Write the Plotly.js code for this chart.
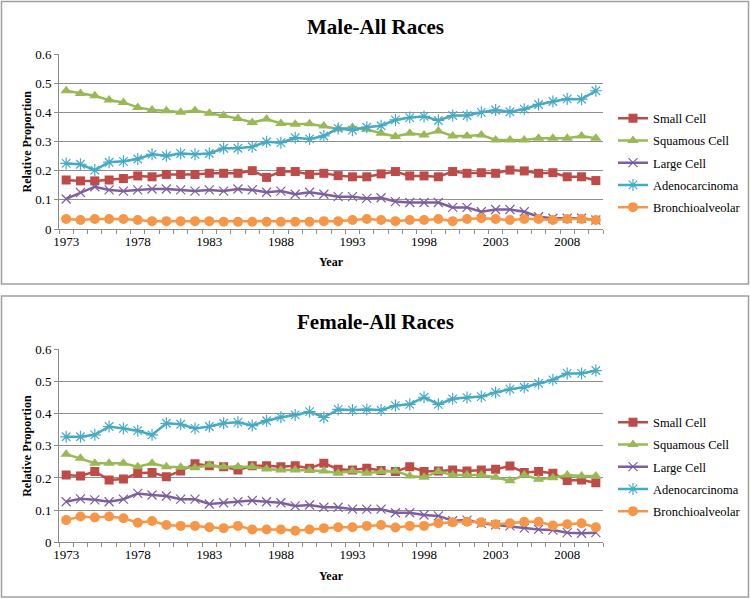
<!DOCTYPE html>
<html>
<head>
<meta charset="utf-8">
<script src="https://cdn.plot.ly/plotly-3.0.1.min.js"></script>
<style>html,body{margin:0;padding:0;background:#fff;}#chart{width:750px;height:599px;}</style>
</head>
<body>
<div id="chart"></div>
<script>
var years = [];
for (var y = 1973; y <= 2010; y++) years.push(y);

var seriesNames = ["Small Cell", "Squamous Cell", "Large Cell", "Adenocarcinoma", "Bronchioalveolar"];
var tickYears = [1973, 1978, 1983, 1988, 1993, 1998, 2003, 2008];
var panelTitles = ["Male-All Races", "Female-All Races"];
var xTitle = "Year";
var yTitle = "Relative Proportion";

var maleSmall = [0.168,0.165,0.165,0.168,0.173,0.182,0.179,0.187,0.187,0.187,0.191,0.191,0.191,0.200,0.177,0.197,0.197,0.187,0.191,0.183,0.179,0.179,
  0.189,0.197,0.182,0.182,0.179,0.197,0.191,0.193,0.191,0.202,0.199,0.191,0.193,0.179,0.179,0.166];
var maleSquamous = [0.474,0.465,0.457,0.442,0.434,0.417,0.408,0.405,0.400,0.406,0.397,0.389,0.379,0.365,0.377,0.362,0.359,0.361,0.353,0.343,0.348,0.342,
  0.328,0.317,0.328,0.322,0.336,0.319,0.319,0.322,0.305,0.305,0.305,0.311,0.311,0.311,0.319,0.311];
var maleLarge = [0.103,0.125,0.145,0.134,0.130,0.134,0.137,0.137,0.134,0.130,0.134,0.130,0.137,0.134,0.126,0.130,0.119,0.126,0.119,0.111,0.111,0.105,
  0.107,0.094,0.091,0.091,0.091,0.074,0.074,0.059,0.067,0.067,0.059,0.042,0.037,0.037,0.037,0.031];
var maleAdeno = [0.225,0.222,0.202,0.229,0.232,0.240,0.256,0.251,0.259,0.256,0.259,0.277,0.277,0.282,0.299,0.296,0.313,0.309,0.319,0.345,0.339,0.349,
  0.354,0.374,0.382,0.386,0.372,0.389,0.389,0.400,0.408,0.402,0.411,0.427,0.437,0.446,0.445,0.474];
var maleBronch = [0.034,0.031,0.034,0.034,0.034,0.031,0.027,0.027,0.027,0.027,0.027,0.025,0.025,0.025,0.025,0.025,0.025,0.025,0.027,0.027,0.031,0.034,
  0.031,0.027,0.031,0.031,0.034,0.027,0.034,0.037,0.034,0.031,0.034,0.034,0.031,0.034,0.034,0.031];

var femaleSmall = [0.209,0.206,0.220,0.194,0.197,0.215,0.217,0.204,0.222,0.244,0.238,0.235,0.225,0.238,0.238,0.235,0.238,0.230,0.246,0.227,0.225,0.230,
  0.223,0.220,0.235,0.220,0.222,0.225,0.222,0.225,0.227,0.237,0.217,0.220,0.215,0.192,0.194,0.185];
var femaleSquamous = [0.274,0.261,0.246,0.246,0.246,0.235,0.246,0.235,0.233,0.232,0.240,0.235,0.235,0.235,0.228,0.225,0.225,0.223,0.222,0.215,0.222,0.215,
  0.220,0.222,0.206,0.202,0.220,0.209,0.209,0.209,0.202,0.191,0.209,0.196,0.201,0.209,0.206,0.206];
var femaleLarge = [0.126,0.135,0.132,0.126,0.134,0.152,0.147,0.144,0.134,0.134,0.119,0.123,0.126,0.130,0.126,0.123,0.113,0.116,0.109,0.109,0.103,0.103,
  0.103,0.092,0.092,0.085,0.082,0.067,0.069,0.059,0.054,0.051,0.044,0.040,0.038,0.030,0.028,0.030];
var femaleAdeno = [0.328,0.328,0.334,0.360,0.354,0.347,0.334,0.370,0.367,0.354,0.360,0.370,0.373,0.363,0.378,0.389,0.396,0.406,0.388,0.413,0.411,0.413,
  0.411,0.425,0.429,0.451,0.429,0.446,0.450,0.453,0.466,0.476,0.482,0.494,0.505,0.525,0.525,0.534];
var femaleBronch = [0.069,0.080,0.077,0.080,0.075,0.061,0.066,0.054,0.051,0.051,0.047,0.044,0.051,0.040,0.040,0.040,0.036,0.040,0.044,0.047,0.047,0.051,
  0.054,0.046,0.051,0.051,0.059,0.062,0.064,0.062,0.056,0.059,0.064,0.064,0.052,0.056,0.059,0.047];

var styles = [
  {color: "#BE4B48", symbol: "square", size: 9, mline: "#BE4B48", mwidth: 0},
  {color: "#98B954", symbol: "triangle-up", size: 10, mline: "#98B954", mwidth: 0},
  {color: "#7D5FA0", symbol: "x-thin-open", size: 9, mline: "#A08AC4", mwidth: 1.2},
  {color: "#46AAC5", symbol: "asterisk-open", size: 10, mline: "#86D4EA", mwidth: 1.2},
  {color: "#F79646", symbol: "circle", size: 10, mline: "#F79646", mwidth: 0}
];

var maleData = [maleSmall, maleSquamous, maleLarge, maleAdeno, maleBronch];
var femaleData = [femaleSmall, femaleSquamous, femaleLarge, femaleAdeno, femaleBronch];

var traces = [];
function addPanel(data, xa, ya, leg, tag) {
  for (var i = 0; i < data.length; i++) {
    var s = styles[i];
    traces.push({
      x: years, y: data[i], type: "scatter", mode: "lines+markers",
      name: seriesNames[i], xaxis: xa, yaxis: ya, legend: leg, legendgroup: tag + i,
      line: {color: s.color, width: 2.5},
      marker: {symbol: s.symbol, size: s.size, color: s.color, line: {color: s.mline, width: s.mwidth}}
    });
  }
}
addPanel(maleData, "x", "y", "legend", "m");
addPanel(femaleData, "x2", "y2", "legend2", "f");

var W = 750, H = 599;
function py(p) { return 1 - p / H; }
var font = "Liberation Serif";

function xaxisDef(anchor, dom) {
  return {
    domain: dom, anchor: anchor, range: [1972.5, 2010.5],
    tickvals: tickYears, ticktext: tickYears.map(String),
    ticks: "", showgrid: false, zeroline: false,
    showline: true, linecolor: "#8c8c8c", linewidth: 1,
    tickfont: {family: font, size: 13, color: "#000"},
    minor: {ticks: "outside", tick0: 1972.5, dtick: 1, ticklen: 4, tickcolor: "#8c8c8c", showgrid: false},
    title: {text: "<b>" + xTitle + "</b>", font: {family: font, size: 12, color: "#000"}, standoff: 10}
  };
}
function yaxisDef(anchor, dom) {
  return {
    domain: dom, anchor: anchor, range: [0, 0.6],
    tickvals: [0, 0.1, 0.2, 0.3, 0.4, 0.5, 0.6], ticktext: ["0", "0.1", "0.2", "0.3", "0.4", "0.5", "0.6"],
    ticks: "outside", ticklen: 4, tickcolor: "#8c8c8c",
    showgrid: true, gridcolor: "#8f8f8f", gridwidth: 1, zeroline: false,
    showline: true, linecolor: "#8c8c8c", linewidth: 1,
    tickfont: {family: font, size: 13, color: "#000"}
  };
}

var xdom = [59 / W, 603 / W];
var legendFont = {family: font, size: 12.5, color: "#000"};
var layout = {
  width: W, height: H,
  margin: {l: 0, r: 0, t: 0, b: 0},
  paper_bgcolor: "#fff", plot_bgcolor: "#fff",
  font: {family: font, color: "#000"},
  showlegend: true,
  xaxis: xaxisDef("y", xdom),
  yaxis: yaxisDef("x", [py(229), py(54)]),
  xaxis2: xaxisDef("y2", xdom),
  yaxis2: yaxisDef("x2", [py(542.3), py(349.3)]),
  legend: {x: 613 / W, y: py(163), xanchor: "left", yanchor: "middle", font: legendFont, bgcolor: "rgba(0,0,0,0)", traceorder: "grouped", tracegroupgap: 3},
  legend2: {x: 613 / W, y: py(467), xanchor: "left", yanchor: "middle", font: legendFont, bgcolor: "rgba(0,0,0,0)", traceorder: "grouped", tracegroupgap: 3},
  shapes: [
    {type: "rect", xref: "paper", yref: "paper", x0: 1.5 / W, x1: 748.5 / W, y0: py(284), y1: py(1.5), line: {color: "#a0a0a0", width: 1.5}},
    {type: "rect", xref: "paper", yref: "paper", x0: 1.5 / W, x1: 748.5 / W, y0: py(597), y1: py(296), line: {color: "#a0a0a0", width: 1.5}}
  ],
  annotations: [
    {text: "<b>" + panelTitles[0] + "</b>", xref: "paper", yref: "paper", x: 375 / W, y: py(27), xanchor: "center", yanchor: "middle", showarrow: false, font: {family: font, size: 21, color: "#000"}},
    {text: "<b>" + panelTitles[1] + "</b>", xref: "paper", yref: "paper", x: 375 / W, y: py(322), xanchor: "center", yanchor: "middle", showarrow: false, font: {family: font, size: 21, color: "#000"}},
    {text: "<b>" + yTitle + "</b>", xref: "paper", yref: "paper", x: 27 / W, y: py(141.5), xanchor: "center", yanchor: "middle", textangle: -90, showarrow: false, font: {family: font, size: 12, color: "#000"}},
    {text: "<b>" + yTitle + "</b>", xref: "paper", yref: "paper", x: 27 / W, y: py(445.8), xanchor: "center", yanchor: "middle", textangle: -90, showarrow: false, font: {family: font, size: 12, color: "#000"}}
  ]
};

Plotly.newPlot("chart", traces, layout, {displayModeBar: false, staticPlot: true});
</script>
</body>
</html>
